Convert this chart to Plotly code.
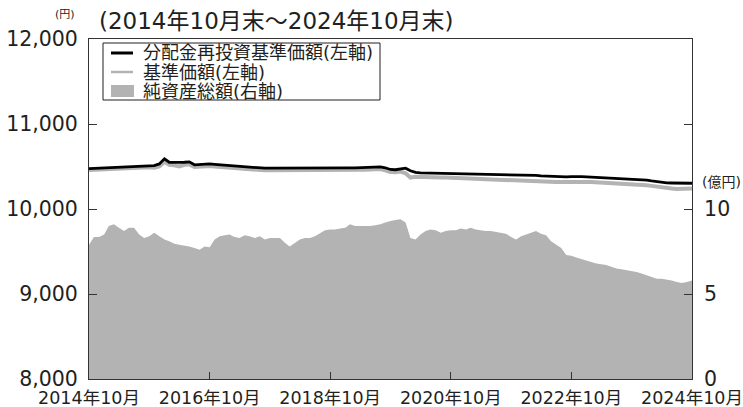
import pandas as pd
import plotly.graph_objects as go

# Monthly month-end dates, 2014-10 to 2024-10
dates = pd.date_range("2014-10-31", periods=121, freq="ME")

# 分配金再投資基準価額 (円, left axis)
reinvested_nav = [
    10475, 10478, 10480, 10482, 10485, 10487, 10488, 10490, 10492, 10495,
    10500, 10503, 10506, 10510, 10530, 10590, 10550, 10545, 10548, 10550,
    10555, 10520, 10525, 10528, 10530, 10525, 10520, 10515, 10512, 10505,
    10500, 10494, 10488, 10485, 10482, 10480, 10480, 10480, 10482, 10480,
    10478, 10476, 10476, 10478, 10480, 10480, 10480, 10481, 10482, 10482,
    10482, 10483, 10484, 10485, 10486, 10488, 10490, 10494, 10496, 10485,
    10465, 10462, 10470, 10480, 10450, 10430, 10425, 10424, 10422, 10420,
    10418, 10416, 10414, 10412, 10411, 10410, 10409, 10408, 10407, 10406,
    10405, 10404, 10403, 10402, 10401, 10400, 10400, 10400, 10398, 10395,
    10390, 10386, 10382, 10378, 10376, 10378, 10382, 10385, 10382, 10378,
    10375, 10372, 10368, 10365, 10363, 10362, 10362, 10360, 10355, 10350,
    10345, 10340, 10330, 10320, 10312, 10308, 10306, 10305, 10307, 10305,
    10303,
]

# 基準価額 (円, left axis)
base_nav = [
    10460, 10463, 10465, 10467, 10470, 10472, 10473, 10475, 10477, 10480,
    10485, 10488, 10491, 10485, 10500, 10555, 10520, 10515, 10500, 10520,
    10525, 10495, 10500, 10503, 10505, 10500, 10495, 10490, 10487, 10480,
    10475, 10469, 10463, 10460, 10457, 10455, 10455, 10455, 10457, 10455,
    10453, 10451, 10451, 10453, 10455, 10455, 10455, 10456, 10457, 10457,
    10457, 10458, 10459, 10460, 10461, 10463, 10465, 10469, 10471, 10455,
    10435, 10432, 10440, 10420, 10370, 10380, 10376, 10375, 10374, 10372,
    10371, 10370, 10369, 10368, 10365, 10362, 10359, 10356, 10353, 10350,
    10347, 10344, 10341, 10338, 10335, 10332, 10328, 10325, 10322, 10320,
    10318, 10318, 10318, 10318, 10318, 10320, 10322, 10322, 10320, 10318,
    10318, 10315, 10312, 10308, 10305, 10302, 10300, 10298, 10295, 10292,
    10290, 10280, 10272, 10262, 10252, 10245, 10240, 10236, 10235, 10238,
    10240,
]

# 純資産総額 (億円, right axis)
net_assets = [
    7.9, 8.35, 8.35, 8.5, 9.0, 9.1, 8.9, 8.7, 8.9, 8.9,
    8.5, 8.3, 8.4, 8.6, 8.4, 8.2, 8.1, 7.95, 7.9, 7.85,
    7.8, 7.7, 7.6, 7.8, 7.75, 8.2, 8.4, 8.45, 8.5, 8.35,
    8.3, 8.45, 8.4, 8.3, 8.4, 8.2, 8.3, 8.3, 8.3, 8.0,
    7.8, 8.0, 8.2, 8.3, 8.3, 8.4, 8.6, 8.75, 8.8, 8.8,
    8.85, 8.9, 9.1, 9.0, 9.0, 9.0, 9.0, 9.05, 9.1, 9.2,
    9.3, 9.35, 9.4, 9.2, 8.3, 8.2, 8.5, 8.7, 8.8, 8.75,
    8.6, 8.7, 8.75, 8.75, 8.85, 8.8, 8.9, 8.8, 8.75, 8.7,
    8.7, 8.65, 8.6, 8.55, 8.35, 8.2, 8.4, 8.5, 8.6, 8.7,
    8.55, 8.45, 8.1, 7.9, 7.7, 7.3, 7.25, 7.15, 7.05, 6.95,
    6.9, 6.8, 6.75, 6.7, 6.6, 6.5, 6.45, 6.4, 6.35, 6.3,
    6.2, 6.1, 6.0, 5.9, 5.9, 5.85, 5.8, 5.7, 5.65, 5.7,
    5.8,
]

x_tick_dates = ["2014-10-31", "2016-10-31", "2018-10-31", "2020-10-31", "2022-10-31", "2024-10-31"]
x_tick_labels = ["2014年10月", "2016年10月", "2018年10月", "2020年10月", "2022年10月", "2024年10月"]
left_ticks = [8000, 9000, 10000, 11000, 12000]
left_tick_labels = ["8,000", "9,000", "10,000", "11,000", "12,000"]
right_ticks = [0, 5, 10, 15, 20]
right_tick_labels = ["0", "5", "10", "", ""]

series_names = ["分配金再投資基準価額(左軸)", "基準価額(左軸)", "純資産総額(右軸)"]

FONT = "DejaVu Sans, Noto Sans CJK JP"
TXT = "#231f20"
GRAY = "#b3b3b3"
AX = "#333333"

# plot-area geometry in pixels (for the hand-drawn legend box)
W, H = 743, 407
ML, MR, MT, MB = 89, 51, 39, 28
PW, PH = W - ML - MR, H - MT - MB


def px(x):
    return (x - ML) / PW


def py(y):
    return (H - MB - y) / PH


fig = go.Figure()
fig.add_trace(go.Scatter(
    x=dates, y=net_assets, yaxis="y2", name=series_names[2],
    mode="lines", line=dict(width=0, color=GRAY), fill="tozeroy",
    fillcolor=GRAY, showlegend=False,
))
fig.add_trace(go.Scatter(
    x=dates, y=base_nav, name=series_names[1], mode="lines",
    line=dict(width=4, color=GRAY), showlegend=False,
))
fig.add_trace(go.Scatter(
    x=dates, y=reinvested_nav, name=series_names[0], mode="lines",
    line=dict(width=2.8, color="#000000"), showlegend=False,
))

# legend (box, swatches, labels)
shapes = [
    dict(type="rect", xref="paper", yref="paper", x0=px(103), x1=px(380),
         y0=py(100), y1=py(43), line=dict(color=TXT, width=1), fillcolor="white", layer="above"),
    dict(type="line", xref="paper", yref="paper", x0=px(111), x1=px(133),
         y0=py(53), y1=py(53), line=dict(color="#000000", width=3), layer="above"),
    dict(type="line", xref="paper", yref="paper", x0=px(111), x1=px(133),
         y0=py(72), y1=py(72), line=dict(color=GRAY, width=2.5), layer="above"),
    dict(type="rect", xref="paper", yref="paper", x0=px(111), x1=px(134),
         y0=py(97), y1=py(85), line=dict(width=0), fillcolor=GRAY, layer="above"),
]
legend_rows = [53, 72, 91]
annotations = [
    dict(text=name, xref="paper", yref="paper", x=px(141), y=py(row),
         xanchor="left", yanchor="middle", showarrow=False,
         font=dict(size=18, family=FONT, color=TXT))
    for name, row in zip(series_names, legend_rows)
]
annotations += [
    dict(text="(2014年10月末～2024年10月末)", xref="paper", yref="paper",
         x=px(97), y=1.0, xanchor="left", yanchor="middle", yshift=18, showarrow=False,
         font=dict(size=23, family=FONT, color=TXT)),
    dict(text="(円)", xref="paper", yref="paper", x=0, y=1, xshift=-24,
         yshift=25, xanchor="center", yanchor="middle", showarrow=False,
         font=dict(size=11, family=FONT, color=TXT)),
    dict(text="(億円)", xref="paper", yref="y2", x=1, y=11.6, xshift=8,
         xanchor="left", yanchor="middle", showarrow=False,
         font=dict(size=14, family=FONT, color=TXT)),
]

fig.update_layout(
    width=W, height=H,
    margin=dict(l=ML, r=MR, t=MT, b=MB, autoexpand=False),
    paper_bgcolor="white", plot_bgcolor="white",
    font=dict(family=FONT, color=TXT, size=18),
    showlegend=False,
    xaxis=dict(
        range=["2014-10-31", "2024-10-31"], tickmode="array",
        tickvals=x_tick_dates, ticktext=x_tick_labels,
        ticks="inside", ticklen=7, tickcolor=AX, tickwidth=1,
        showline=True, linecolor=AX, linewidth=1, mirror=True,
        showgrid=False, zeroline=False, automargin=False,
        ticklabelstandoff=3,
        tickfont=dict(size=17.5, family=FONT, color=TXT),
    ),
    yaxis=dict(
        range=[8000, 12000], tickmode="array",
        tickvals=left_ticks, ticktext=left_tick_labels,
        ticks="inside", ticklen=8, tickcolor=AX, tickwidth=1,
        showline=True, linecolor=AX, linewidth=1,
        showgrid=False, zeroline=False, automargin=False,
        ticklabelstandoff=6,
        tickfont=dict(size=20.5, family=FONT, color=TXT),
    ),
    yaxis2=dict(
        range=[0, 20], overlaying="y", side="right", tickmode="array",
        tickvals=right_ticks, ticktext=right_tick_labels,
        ticks="inside", ticklen=8, tickcolor=AX, tickwidth=1,
        showline=True, linecolor=AX, linewidth=1,
        showgrid=False, zeroline=False, automargin=False,
        ticklabelstandoff=7,
        tickfont=dict(size=20.5, family=FONT, color=TXT),
    ),
    shapes=shapes,
    annotations=annotations,
)

fig.write_html(
    "out.html",
    config={"displayModeBar": False},
    post_script="document.body.style.margin='0';document.body.style.overflow='hidden';",
)
